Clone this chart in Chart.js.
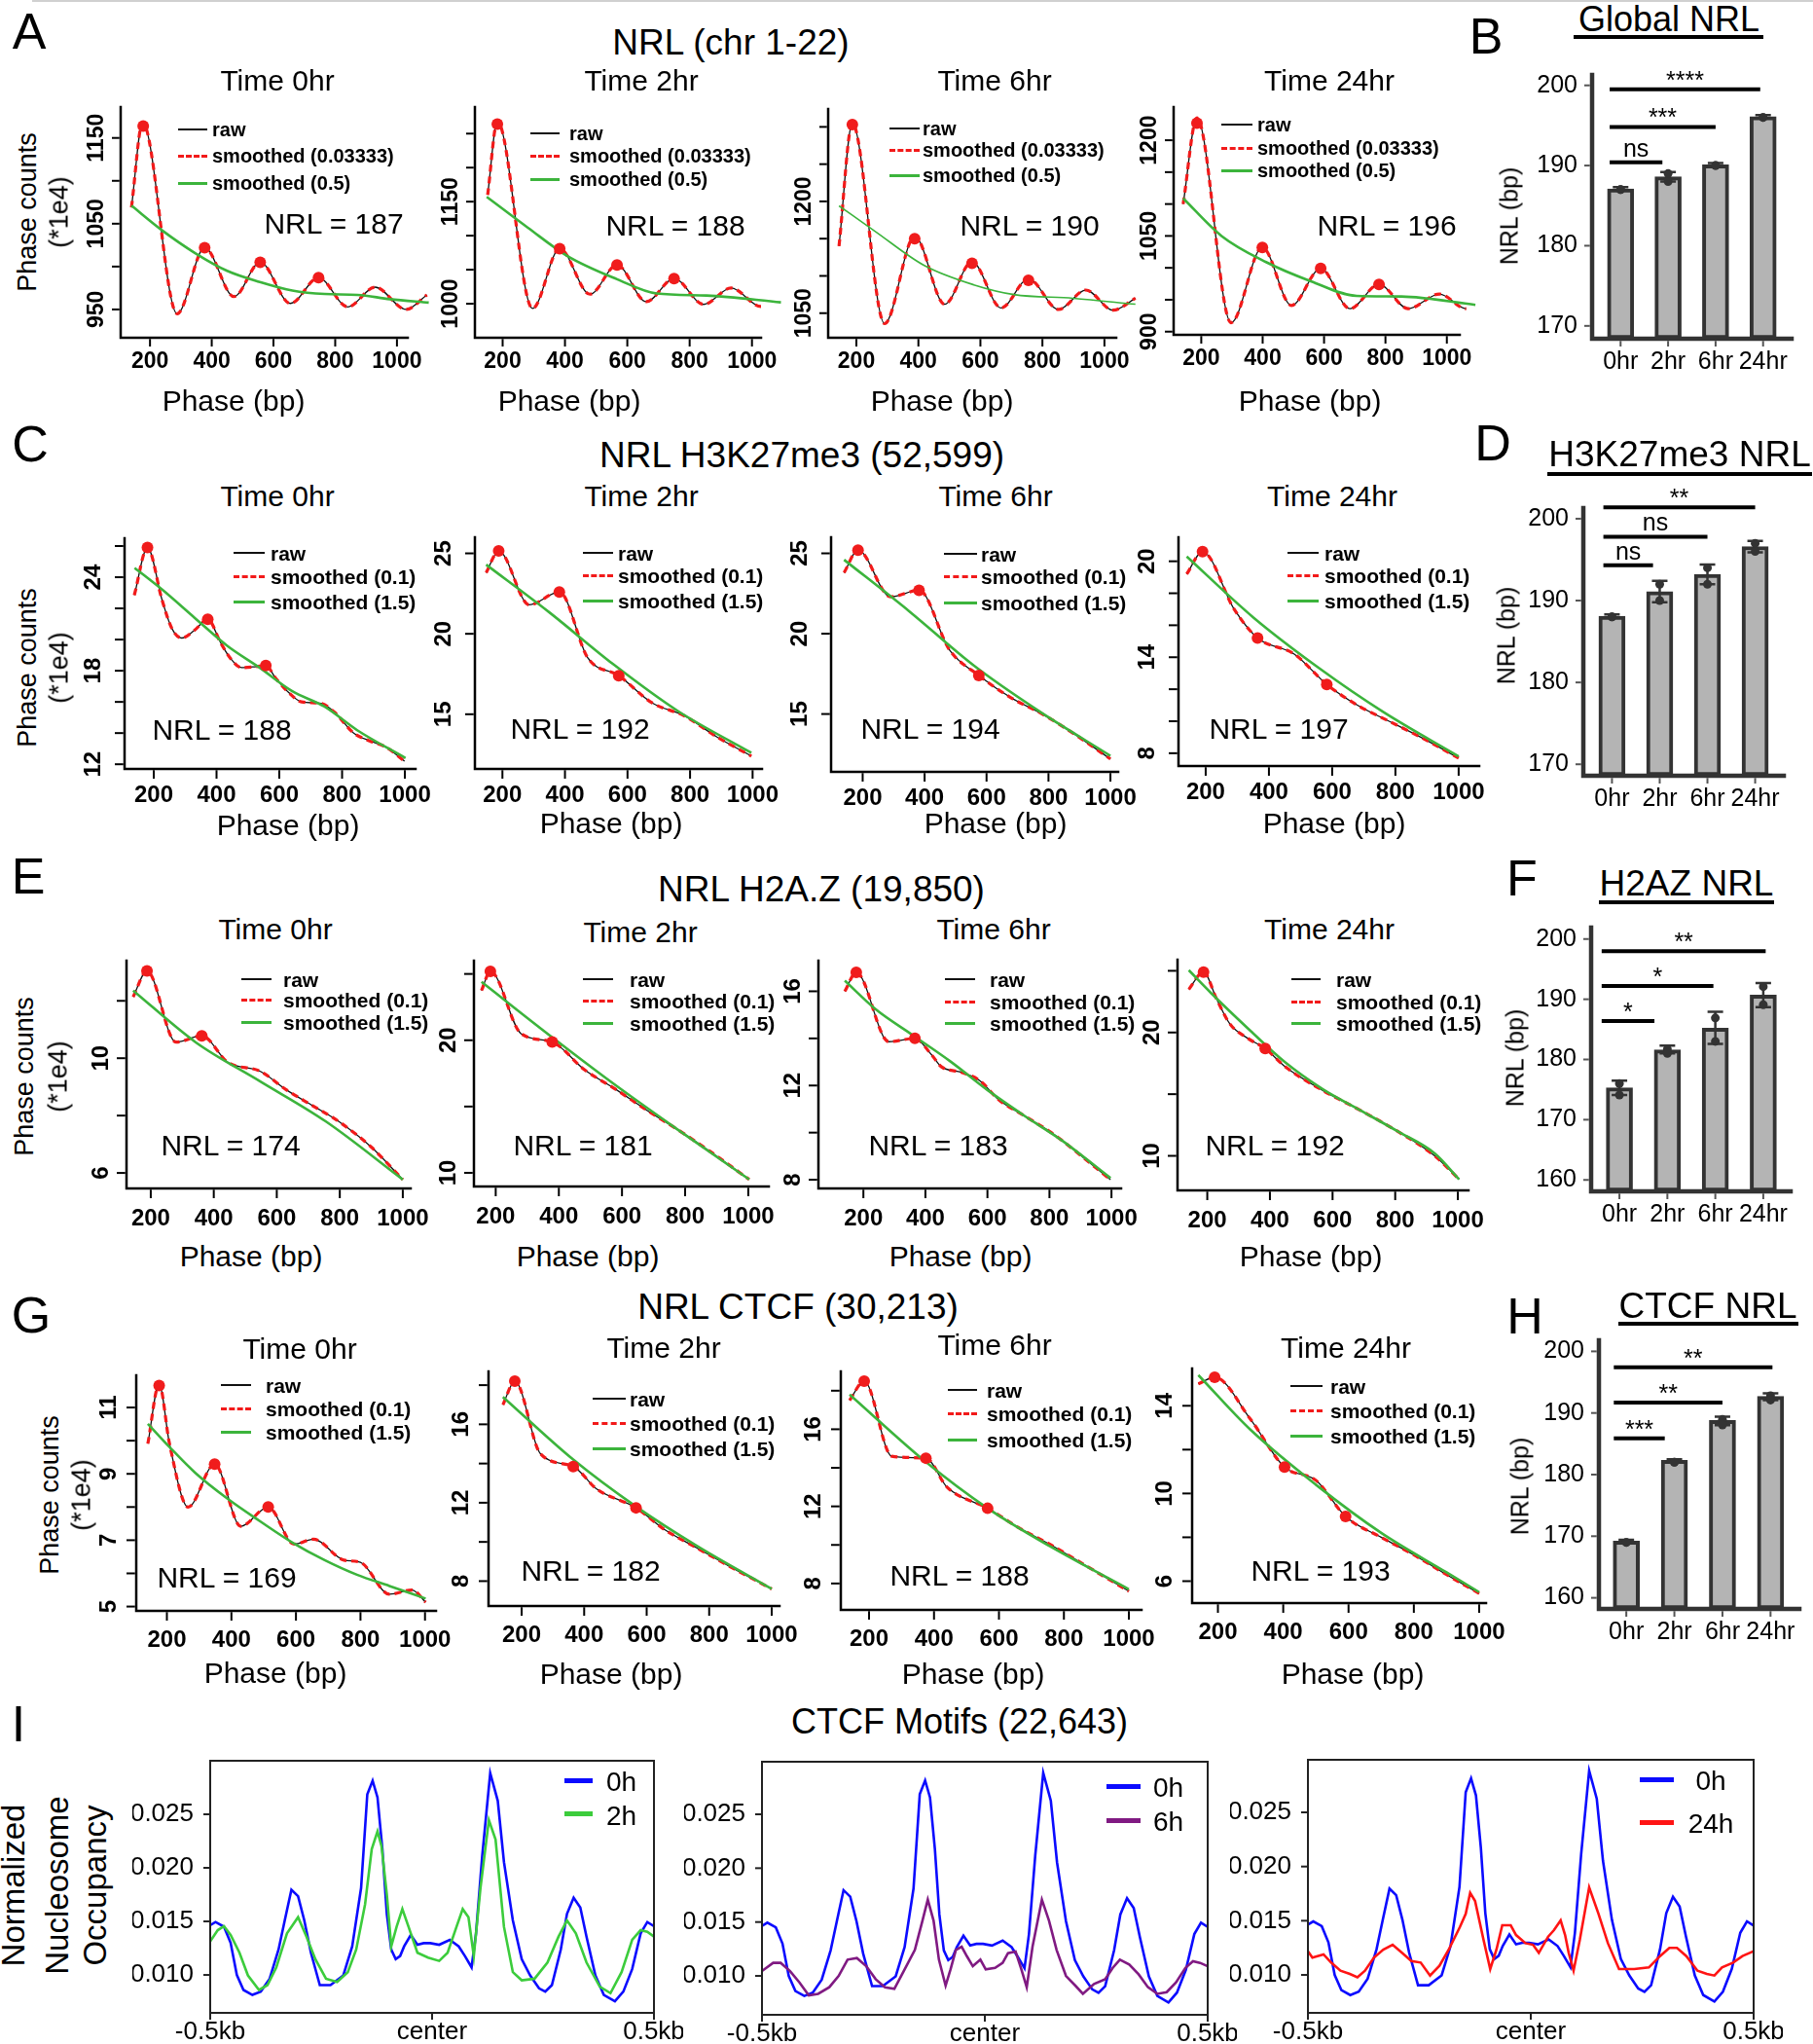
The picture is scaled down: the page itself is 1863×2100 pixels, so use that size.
<!DOCTYPE html>
<html><head><meta charset="utf-8">
<script src="https://cdn.jsdelivr.net/npm/chart.js@4.4.1/dist/chart.umd.min.js"></script>
<style>
html,body{margin:0;padding:0;background:#fff}
body{width:1863px;height:2100px;position:relative;overflow:hidden;font-family:"Liberation Sans",Arial,Helvetica,sans-serif;color:#000}
.t{position:absolute;white-space:nowrap;line-height:1;transform:translate(-50%,-50%)}
.l{position:absolute;white-space:nowrap;line-height:1;transform:translate(0,-50%)}
.hl{position:absolute}
canvas{position:absolute}
</style></head><body>
<script>
// ================= DATA =================
const PH_XT=[200,400,600,800,1000];
// --- Row A: NRL (chr 1-22) ---
const A0_x=[140,176,288,377,472,557,655,746,841,929,1030,1097];
const A0_y=[1069,1168,945,1022,965,1005,957,987,953,976,950,967];
const A0_gx=[140,240,345,450,556,661,766,872,977,1103];
const A0_gy=[1071,1042,1016,995,982,972,968,967,962,958];
const A0_dx=[178,377,557,746], A0_dy=[1164,1022,1005,987];
const A0_yt=[950,1000,1050,1100,1150], A0_yl=[950,1050,1150];

const A1_x=[152,183,296,383,480,567,661,750,845,933,1029,1092];
const A1_y=[1160,1268,993,1081,1014,1057,1003,1037,999,1023,996,1009];
const A1_gx=[149,280,408,567,694,854,1093];
const A1_gy=[1157,1112,1070,1036,1015,1012,1002];
const A1_dx=[183,383,567,750], A1_dy=[1264,1081,1057,1037];
const A1_yt=[1000,1050,1100,1150,1200,1250], A1_yl=[1000,1150];

const A2_x=[144,187,291,388,485,573,667,755,852,940,1028,1100];
const A2_y=[1140,1305,1036,1153,1062,1119,1057,1096,1055,1081,1054,1070];
const A2_gx=[144,260,419,579,708,899,1100];
const A2_gy=[1194,1160,1114,1088,1075,1070,1062];
const A2_dx=[187,388,573,755], A2_dy=[1303,1150,1117,1094];
const A2_yt=[1050,1100,1150,1200,1250,1300], A2_yl=[1050,1200];

const A3_x=[141,186,297,399,494,589,684,779,874,976,1063,1096];
const A3_y=[1100,1235,914,1032,941,999,936,974,936,959,936,941];
const A3_gx=[141,266,411,557,706,852,1093];
const A3_gy=[1109,1050,1009,979,956,955,942];
const A3_dx=[186,399,589,779], A3_dy=[1227,1032,999,974];
const A3_yt=[900,950,1000,1050,1100,1150,1200], A3_yl=[900,1050,1200];

// --- Row C: H3K27me3 ---
const C0_x=[138,180,227,258,289,330,372,413,444,480,527,557,589,630,671,733,775,837,888,940,999];
const C0_y=[22.85,25.9,22.5,20.7,20.1,20.6,21.3,19.8,18.8,18.2,18.27,18.33,17.5,16.6,16.0,15.9,15.35,14.0,13.5,13.1,12.2];
const C0_gx=[139,227,330,434,537,640,744,847,1002];
const C0_gy=[24.6,23.2,21.4,19.6,18.2,16.7,15.7,14.2,12.4];
const C0_dx=[180,372,557], C0_dy=[25.9,21.3,18.33];
const C0_yt=[12,14,16,18,20,22,24,26], C0_yl=[12,18,24];

const C1_x=[148,188,286,382,473,572,679,782,885,996];
const C1_y=[23.8,25.15,21.8,22.6,18.5,17.4,15.7,14.9,13.6,12.4];
const C1_gx=[148,349,555,761,996], C1_gy=[24.3,21.35,18.1,15.2,12.6];
const C1_dx=[188,382,572], C1_dy=[25.15,22.6,17.4];
const C1_yt=[15,20,25], C1_yl=[15,20,25];

const C2_x=[140,185,290,382,480,575,680,780,880,1000];
const C2_y=[23.8,25.2,22.3,22.7,19.0,17.4,16.0,15.0,13.8,12.2];
const C2_gx=[140,350,560,760,1000], C2_gy=[24.6,21.4,18.0,15.3,12.4];
const C2_dx=[185,382,575], C2_dy=[25.2,22.7,17.4];
const C2_yt=[15,20,25], C2_yl=[15,20,25];

const C3_x=[140,190,290,364,480,583,680,780,880,1000];
const C3_y=[19.2,20.6,17.0,15.2,14.2,12.3,11.0,10.0,9.0,7.7];
const C3_gx=[140,350,560,760,1000], C3_gy=[20.3,16.5,13.3,10.6,7.8];
const C3_dx=[190,364,583], C3_dy=[20.6,15.2,12.3];
const C3_yt=[8,10,12,14,16,18,20], C3_yl=[8,14,20];

// --- Row E: H2A.Z ---
const E0_x=[144,188,280,362,444,548,630,713,796,900,1000];
const E0_y=[12.14,13.04,10.56,10.78,9.86,9.54,8.9,8.35,7.8,6.9,5.77];
const E0_gx=[144,342,549,755,1000], E0_gy=[12.36,10.56,9.18,7.8,5.77];
const E0_dx=[188,362], E0_dy=[13.04,10.78];
const E0_yt=[6,8,10,12], E0_yl=[6,10];

const E1_x=[155,183,280,379,480,580,680,780,880,1003];
const E1_y=[23.75,25.2,20.5,19.87,17.8,16.3,14.7,13.2,11.6,9.5];
const E1_gx=[155,380,580,780,1003], E1_gy=[24.4,20.2,16.6,13.2,9.5];
const E1_dx=[183,379], E1_dy=[25.2,19.87];
const E1_yt=[10,15,20,25], E1_yl=[10,20];

const E2_x=[140,177,282,366,420,451,517,576,636,721,817,913,997];
const E2_y=[16.0,16.8,13.86,14.0,13.3,12.8,12.56,12.2,11.4,10.7,9.9,8.9,8.0];
const E2_gx=[140,240,360,480,601,721,841,997], E2_gy=[16.45,15.23,14.13,13.03,11.8,10.7,9.66,8.07];
const E2_dx=[177,366], E2_dy=[16.8,14.0];
const E2_yt=[8,10,12,14,16], E2_yl=[8,12,16];

const E3_x=[141,188,230,272,331,385,450,569,688,807,926,1004];
const E3_y=[23.5,24.9,22.7,20.7,19.5,18.7,17.2,15.3,13.7,12.0,10.0,8.1];
const E3_gx=[141,212,331,450,569,688,807,926,1004], E3_gy=[25.05,23.2,20.3,17.55,15.4,13.7,12.0,10.2,8.1];
const E3_dx=[188,385], E3_dy=[24.9,18.7];
const E3_yt=[10,15,20,25], E3_yl=[10,20];

// --- Row G: CTCF ---
const G0_x=[141,176,208,266,348,429,514,594,654,749,800,890,960,1002];
const G0_y=[9.91,11.71,9.91,8.0,9.29,7.42,8.0,6.88,7.03,6.4,6.33,5.37,5.5,5.13];
const G0_gx=[141,208,288,388,489,589,689,789,890,1002], G0_gy=[10.51,9.81,9.03,8.25,7.57,6.93,6.40,5.96,5.62,5.24];
const G0_dx=[176,348,514], G0_dy=[11.66,9.29,8.0];
const G0_yt=[5,6,7,8,9,10,11], G0_yl=[5,7,9,11];

const G1_x=[140,178,260,365,440,566,660,760,860,1000];
const G1_y=[17.0,18.2,14.5,13.85,12.7,11.74,10.6,9.7,8.8,7.6];
const G1_gx=[140,365,566,760,1000], G1_gy=[17.4,14.2,11.8,9.8,7.6];
const G1_dx=[178,365,566], G1_dy=[18.2,13.85,11.74];
const G1_yt=[8,10,12,14,16,18], G1_yl=[8,12,16];

const G2_x=[140,185,270,375,440,565,660,760,860,1000];
const G2_y=[17.5,18.5,14.6,14.5,13.0,11.9,10.9,10.0,9.0,7.6];
const G2_gx=[140,375,565,760,1000], G2_gy=[17.8,14.3,11.9,9.9,7.7];
const G2_dx=[185,375,565], G2_dy=[18.5,14.5,11.9];
const G2_yt=[8,10,12,14,16,18], G2_yl=[8,12,16];

const G3_x=[140,190,299,404,500,591,700,800,900,1000];
const G3_y=[15.0,15.3,13.4,11.2,10.6,8.95,8.0,7.2,6.3,5.44];
const G3_gx=[140,300,500,700,900,1000], G3_gy=[15.4,12.9,10.4,8.2,6.4,5.5];
const G3_dx=[190,404,591], G3_dy=[15.3,11.2,8.95];
const G3_yt=[6,8,10,12,14], G3_yl=[6,10,14];

// --- Bar charts ---
const BAR_CATS=['0hr','2hr','6hr','24hr'];
const B_mean=[187.1,188.6,190.1,196.1], B_lo=[186.9,188.0,189.9,195.9], B_hi=[187.3,189.2,190.3,196.3];
const B_rep1=[187.0,189.0,190.0,196.0], B_rep2=[187.0,188.0,190.0,196.0];
const B_sigTo=[1,2,3], B_sigY=[190.4,194.8,199.5], B_sigTxt=['ns','***','****'];
const B_yt=[170,180,190,200];

const D_mean=[188.1,191.1,193.2,196.6], D_lo=[187.9,189.8,192.0,195.9], D_hi=[188.3,192.4,194.4,197.3];
const D_rep1=[188.0,192.0,194.0,197.0], D_rep2=[188.0,190.0,192.0,196.0];
const D_sigTo=[1,2,3], D_sigY=[194.3,197.8,201.4], D_sigTxt=['ns','ns','**'];
const D_yt=[170,180,190,200];

const F_mean=[175.3,181.6,185.2,190.7], F_lo=[174.1,181.0,182.6,188.7], F_hi=[176.5,182.3,187.9,192.7];
const F_rep1=[176.0,181.7,186.9,192.1], F_rep2=[174.1,181.0,183.0,189.1];
const F_sigTo=[1,2,3], F_sigY=[186.4,192.2,198.0], F_sigTxt=['*','*','**'];
const F_yt=[160,170,180,190,200];

const H_mean=[169.2,182.3,188.8,192.7], H_lo=[169.0,182.1,188.0,192.1], H_hi=[169.4,182.5,189.4,193.2];
const H_rep1=[169.0,182.0,188.95,192.8], H_rep2=[169.0,182.0,188.05,192.1];
const H_sigTo=[1,2,3], H_sigY=[185.9,191.7,197.4], H_sigTxt=['***','**','**'];
const H_yt=[160,170,180,190,200];

// --- Row I: CTCF motif profiles (x in bp from motif centre) ---
const I_blue_x=[-500,-488,-469,-454,-440,-425,-405,-386,-366,-346,-332,-317,-302,-288,-273,-253,-229,-200,-180,-160,-146,-134,-123,-112,-102,-92,-82,-72,-63,-48,-33,-19,-4,16,40,60,74,89,99,113,131,148,162,182,202,221,241,255,270,290,304,319,334,348,368,387,412,431,451,470,485,500];
const I_blue_y=[0.01464,0.01494,0.0145,0.0130,0.0100,0.0086,0.00814,0.00845,0.00965,0.01237,0.01509,0.01796,0.01736,0.01509,0.01207,0.00905,0.00905,0.00996,0.01267,0.01811,0.02687,0.02814,0.02657,0.02174,0.0157,0.01237,0.01147,0.01177,0.01267,0.01373,0.01282,0.01297,0.01297,0.01282,0.01328,0.01267,0.01177,0.01071,0.01388,0.02113,0.02884,0.02627,0.02053,0.01509,0.01147,0.00996,0.00875,0.00844,0.00905,0.01237,0.0157,0.01721,0.0163,0.01358,0.00996,0.00814,0.00754,0.00845,0.01056,0.01388,0.01494,0.01455];
const I_2h_x=[-500,-483,-469,-454,-434,-415,-390,-371,-351,-327,-302,-283,-263,-239,-214,-190,-171,-151,-136,-123,-114,-102,-92,-80,-67,-53,-33,-9,16,35,55,69,82,94,109,128,143,162,182,202,231,260,285,304,324,348,378,402,427,451,470,485,500];
const I_2h_y=[0.01313,0.01418,0.01455,0.01373,0.01207,0.00996,0.0086,0.00905,0.01071,0.01388,0.01539,0.01358,0.01147,0.00965,0.00935,0.01026,0.01237,0.0166,0.02174,0.0234,0.02204,0.01751,0.01267,0.01449,0.01615,0.01449,0.01207,0.01162,0.01131,0.01207,0.01449,0.01615,0.01539,0.01177,0.01811,0.02446,0.02265,0.01449,0.01026,0.0095,0.00965,0.01116,0.01358,0.01509,0.01388,0.01116,0.0089,0.0083,0.01026,0.01328,0.01418,0.01403,0.01358];
const I_6h_x=[-500,-475,-458,-437,-416,-395,-374,-349,-328,-308,-287,-266,-245,-224,-203,-182,-157,-140,-128,-115,-103,-88,-77,-65,-52,-40,-27,-10,2,23,40,52,69,82,94,107,128,144,161,182,203,220,245,270,287,303,324,345,366,387,408,429,450,467,483,500];
const I_6h_y=[0.01045,0.01121,0.01121,0.01045,0.0094,0.00819,0.00834,0.00895,0.01,0.01151,0.01166,0.0109,0.0097,0.00895,0.0088,0.01045,0.01241,0.01512,0.01708,0.01512,0.01151,0.0091,0.0106,0.01241,0.01271,0.01181,0.0109,0.01151,0.0106,0.01075,0.01121,0.01211,0.01226,0.0106,0.00895,0.01271,0.01708,0.01512,0.01241,0.01,0.0091,0.00834,0.00925,0.0097,0.01075,0.01151,0.01106,0.01015,0.00895,0.00834,0.00849,0.0094,0.01075,0.01136,0.01121,0.0109];
const I_24h_x=[-500,-490,-465,-448,-427,-406,-389,-372,-352,-331,-310,-289,-268,-247,-226,-205,-184,-159,-146,-136,-125,-106,-91,-77,-64,-45,-33,-12,5,18,39,52,67,77,85,96,110,131,152,173,198,232,265,290,311,328,349,374,395,412,429,454,475,500];
const I_24h_y=[0.01219,0.01159,0.01189,0.01114,0.01039,0.01009,0.00979,0.01039,0.01159,0.01234,0.01278,0.01204,0.01129,0.01114,0.00994,0.01084,0.01234,0.01443,0.01563,0.01757,0.01683,0.01324,0.01054,0.01234,0.01458,0.01458,0.01368,0.01293,0.01278,0.01204,0.01353,0.01413,0.01503,0.01368,0.01204,0.01039,0.01323,0.01808,0.01563,0.01293,0.01054,0.01054,0.01069,0.01174,0.01249,0.01249,0.01174,0.01039,0.01009,0.00994,0.01069,0.01114,0.01174,0.01219];
const I_yt=[0.010,0.015,0.020,0.025];
const I_xt=[-500,0,500], I_xl=['-0.5kb','center','0.5kb'];

// ================= HELPERS =================
const FF='"Liberation Sans", Arial, Helvetica, sans-serif';
function pts(xs,ys){return xs.map((x,i)=>({x:x,y:ys[i]}));}
function T(txt,x,y,size,o){o=o||{};const d=document.createElement('div');d.className='t';d.textContent=txt;
  d.style.left=x+'px';d.style.top=y+'px';d.style.fontSize=size+'px';
  if(o.bold)d.style.fontWeight='bold';if(o.rot)d.style.transform='translate(-50%,-50%) rotate(-90deg)';
  document.body.appendChild(d);}
function TL(txt,x,y,size,bold){const d=document.createElement('div');d.className='l';d.textContent=txt;
  d.style.left=x+'px';d.style.top=y+'px';d.style.fontSize=size+'px';if(bold)d.style.fontWeight='bold';document.body.appendChild(d);}
function HL(x0,x1,y,th,style){const d=document.createElement('div');d.className='hl';
  d.style.left=x0+'px';d.style.top=(y-th/2)+'px';d.style.width=(x1-x0)+'px';d.style.height='0';d.style.borderTop=th+'px '+style;document.body.appendChild(d);}
function mkCanvas(box,pad){const c=document.createElement('canvas');
  const w=box[2]-box[0]+pad[0]+pad[2],h=box[3]-box[1]+pad[1]+pad[3];
  c.width=w;c.height=h;c.style.left=(box[0]-pad[0])+'px';c.style.top=(box[1]-pad[1])+'px';c.style.width=w+'px';c.style.height=h+'px';
  document.body.appendChild(c);return c;}
function baseOpts(pad,xr,yr,ax,extra){return {responsive:false,animation:false,devicePixelRatio:1,
  layout:{padding:{left:pad[0],top:pad[1],right:pad[2],bottom:pad[3]}},
  plugins:{legend:{display:false},tooltip:{enabled:false},ax:ax,bx:extra||{}},
  scales:{x:{type:'linear',offset:false,grace:0,min:xr[0],max:xr[1],display:false},y:{type:'linear',grace:0,min:yr[0],max:yr[1],display:false}}};}

// axis plugin
Chart.register({id:'ax',afterDraw(ch,a,o){
  if(!o||!o.kind)return;const c=ch.ctx,A=ch.chartArea,X=ch.scales.x,Y=ch.scales.y;
  c.save();c.strokeStyle=o.col;c.fillStyle='#000';c.lineWidth=o.lw;c.lineCap='square';
  c.beginPath();
  if(o.kind==='box'){c.rect(A.left,A.top,A.right-A.left,A.bottom-A.top);}
  else{c.moveTo(A.left,A.top);c.lineTo(A.left,A.bottom);c.lineTo(A.right,A.bottom);}
  c.stroke();c.lineCap='butt';c.lineWidth=o.tlw;c.strokeStyle=o.tcol||o.col;
  o.yt.forEach(v=>{const y=Y.getPixelForValue(v);c.beginPath();c.moveTo(A.left-o.lw/2,y);c.lineTo(A.left-o.tl,y);c.stroke();});
  o.xt.forEach(v=>{const x=X.getPixelForValue(v);c.beginPath();c.moveTo(x,A.bottom+o.lw/2);c.lineTo(x,A.bottom+o.tl);c.stroke();});
  c.font=o.font;c.textBaseline='middle';c.textAlign='center';
  o.xl.forEach((t,i)=>c.fillText(t,X.getPixelForValue(o.xlAt[i]),A.bottom+o.xOff));
  o.yl.forEach(v=>{const y=Y.getPixelForValue(v);const s=o.yFmt?o.yFmt(v):String(v);
    if(o.yRot){c.save();c.translate(A.left-o.yOff,y);c.rotate(-Math.PI/2);c.textAlign='center';c.fillText(s,0,0);c.restore();}
    else{c.textAlign='right';c.fillText(s,A.left-o.yOff,y);}});
  c.restore();}});
// bar extras plugin: error bars, replicate dots, significance brackets
Chart.register({id:'bx',afterDatasetsDraw(ch,a,o){
  if(!o||!o.lo)return;const c=ch.ctx,X=ch.scales.x,Y=ch.scales.y;c.save();
  c.strokeStyle='#333';c.fillStyle='#333';c.lineWidth=2.5;
  o.lo.forEach((lo,i)=>{const x=X.getPixelForValue(i),y0=Y.getPixelForValue(lo),y1=Y.getPixelForValue(o.hi[i]);
    c.beginPath();c.moveTo(x,y0);c.lineTo(x,y1);c.moveTo(x-8,y0);c.lineTo(x+8,y0);c.moveTo(x-8,y1);c.lineTo(x+8,y1);c.stroke();
    [o.r1[i],o.r2[i]].forEach(v=>{c.beginPath();c.arc(x,Y.getPixelForValue(v),4.5,0,Math.PI*2);c.fill();});});
  c.strokeStyle='#000';c.fillStyle='#000';c.lineWidth=4;c.font='25px '+FF;c.textAlign='center';c.textBaseline='middle';
  o.sigY.forEach((v,i)=>{const to=o.sigTo[i];const x0=X.getPixelForValue(o.s0),x1=X.getPixelForValue(to+o.s1[i]),y=Y.getPixelForValue(v);
    c.beginPath();c.moveTo(x0,y);c.lineTo(x1,y);c.stroke();
    const t=o.sigTxt[i];c.fillText(t,(x0+x1)/2,y-(t==='ns'?13:8));});
  c.restore();}});

function phaso(box,xr,yr,x,y,gx,gy,dx,dy,yt,yl,st,gw){
  const pad=[70,12,50,50];const cv=mkCanvas(box,pad);
  const ax={kind:'L',col:'#000',lw:2.5,tlw:2,tl:st.tl,yt:yt,xt:PH_XT,xl:PH_XT.map(String),xlAt:PH_XT,yl:yl,yRot:true,
    font:'bold '+st.fs+'px '+FF,xOff:st.xOff,yOff:st.yOff};
  new Chart(cv,{type:'line',data:{datasets:[
    {data:pts(dx,dy),showLine:false,pointRadius:6,pointHoverRadius:6,pointBackgroundColor:'#f01c1c',pointBorderWidth:0,clip:false},
    {data:pts(gx,gy),borderColor:'#3cb43c',borderWidth:gw||2.6,pointRadius:0,cubicInterpolationMode:'monotone',clip:false,fill:false},
    {data:pts(x,y),borderColor:'#f21a1a',borderWidth:3.2,borderDash:[7,5],pointRadius:0,cubicInterpolationMode:'monotone',clip:false,fill:false},
    {data:pts(x,y),borderColor:'#111',borderWidth:1.3,pointRadius:0,cubicInterpolationMode:'monotone',clip:false,fill:false}
  ]},options:baseOpts(pad,xr,yr,ax)});}

function bars(box,xr,yr,mean,lo,hi,r1,r2,sigTo,sigY,sigTxt,yt,s0,s1){
  const pad=[70,20,20,45];const cv=mkCanvas(box,pad);
  const ax={kind:'L',col:'#333',tcol:'#555',lw:4.5,tlw:2,tl:8,yt:yt,xt:[0,1,2,3],xl:BAR_CATS,xlAt:[0,1,2,3],yl:yt,yRot:false,
    font:'25px '+FF,xOff:24,yOff:15};
  new Chart(cv,{type:'bar',data:{datasets:[{data:pts([0,1,2,3],mean),backgroundColor:'#b4b4b4',borderColor:'#333',borderWidth:4,
    barThickness:27,base:yr[0],borderSkipped:false}]},
    options:baseOpts(pad,xr,yr,ax,{lo:lo,hi:hi,r1:r1,r2:r2,sigTo:sigTo,sigY:sigY,sigTxt:sigTxt,s0:s0,s1:s1})});}

function profile(box,yr,other,ox,oy,col){
  const pad=[80,10,30,40];const cv=mkCanvas(box,pad);
  const ax={kind:'box',col:'#222',lw:2,tlw:2,tl:7,yt:I_yt,xt:I_xt,xl:I_xl,xlAt:I_xt,yl:I_yt,yRot:false,
    yFmt:v=>v.toFixed(3),font:'26px '+FF,xOff:20,yOff:17};
  new Chart(cv,{type:'line',data:{datasets:[
    {data:pts(ox,oy),borderColor:col,borderWidth:2.6,pointRadius:0,tension:0,fill:false},
    {data:pts(I_blue_x,I_blue_y),borderColor:'#0b0bff',borderWidth:2.6,pointRadius:0,tension:0,fill:false}
  ]},options:baseOpts(pad,[-500,500],yr,ax)});}

function phLegend(x0,x1,tx,ys,labs,fs){
  HL(x0,x1,ys[0],2,'solid #111');HL(x0,x1,ys[1],3,'dashed #f21a1a');HL(x0,x1,ys[2],3,'solid #3cb43c');
  labs.forEach((t,i)=>TL(t,tx,ys[i],fs,true));}

// ================= LAYOUT =================
const SA={fs:23,xOff:25,yOff:24,tl:9}, SC={fs:24,xOff:27,yOff:32,tl:10}, SE={fs:24,xOff:31,yOff:26,tl:10}, SG={fs:24,xOff:30,yOff:28,tl:10};
const LA=['raw','smoothed (0.03333)','smoothed (0.5)'], LB=['raw','smoothed (0.1)','smoothed (1.5)'];

HL(33,1863,1,2,'solid #d0d0d0');

// Row A
phaso([124,110,419,347],[105,1035],[917,1186],A0_x,A0_y,A0_gx,A0_gy,A0_dx,A0_dy,A0_yt,A0_yl,SA);
phaso([488,110,782,347],[111,1029],[950,1289],A1_x,A1_y,A1_gx,A1_gy,A1_dx,A1_dy,A1_yt,A1_yl,SA);
phaso([851,112,1147,347],[109,1038],[1017,1324],A2_x,A2_y,A2_gx,A2_gy,A2_dx,A2_dy,A2_yt,A2_yl,SA,1.6);
phaso([1206,110,1500,344],[110,1042],[895,1252],A3_x,A3_y,A3_gx,A3_gy,A3_dx,A3_dy,A3_yt,A3_yl,SA);
T('A',30,32,52);T('NRL (chr 1-22)',751,43,37);
[['Time 0hr',285],['Time 2hr',659],['Time 6hr',1022],['Time 24hr',1366]].forEach(p=>T(p[0],p[1],83,30));
T('Phase counts',28,218,27,{rot:1});T('(*1e4)',61,218,27,{rot:1});
[240,585,968,1346].forEach(x=>T('Phase (bp)',x,412,30));
T('NRL = 187',343,230,30);T('NRL = 188',694,232,30);T('NRL = 190',1058,232,30);T('NRL = 196',1425,232,30);
phLegend(183,213,218,[133,160,188],LA,20);phLegend(545,575,585,[137,160,184],LA,20);
phLegend(914,945,948,[132,154,180],LA,20);phLegend(1255,1287,1292,[128,152,175],LA,20);

// B
bars([1636,77,1841,348],[-0.6,3.6],[168.4,201.3],B_mean,B_lo,B_hi,B_rep1,B_rep2,B_sigTo,B_sigY,B_sigTxt,B_yt,-0.23,[-0.12,0,-0.06]);
T('B',1527,37,52);T('Global NRL',1715,20,36);HL(1617,1812,38,4,'solid #000');T('NRL (bp)',1551,222,25,{rot:1});

// Row C
phaso([128,553,427,790],[107,1034],[11.7,26.5],C0_x,C0_y,C0_gx,C0_gy,C0_dx,C0_dy,C0_yt,C0_yl,SC);
phaso([488,552,783,790],[112,1030],[11.6,26.0],C1_x,C1_y,C1_gx,C1_gy,C1_dx,C1_dy,C1_yt,C1_yl,SC);
phaso([854,552,1149,793],[98,1025],[11.4,26.0],C2_x,C2_y,C2_gx,C2_gy,C2_dx,C2_dy,C2_yt,C2_yl,SC);
phaso([1211,552,1520,787],[114,1065],[7.2,21.5],C3_x,C3_y,C3_gx,C3_gy,C3_dx,C3_dy,C3_yt,C3_yl,SC);
T('C',31,456,52);T('NRL H3K27me3 (52,599)',824,467,37);
[['Time 0hr',285],['Time 2hr',659],['Time 6hr',1023],['Time 24hr',1369]].forEach(p=>T(p[0],p[1],510,30));
T('Phase counts',28,686,27,{rot:1});T('(*1e4)',61,686,27,{rot:1});
[[296,848],[628,846],[1023,846],[1371,846]].forEach(p=>T('Phase (bp)',p[0],p[1],30));
T('NRL = 188',228,750,30);T('NRL = 192',596,749,30);T('NRL = 194',956,749,30);T('NRL = 197',1314,749,30);
phLegend(240,272,278,[568,592,618],LB,21);phLegend(599,630,635,[568,591,617],LB,21);
phLegend(970,1004,1008,[569,592,619],LB,21);phLegend(1323,1355,1361,[568,591,617],LB,21);

// D
bars([1627,522,1833,797],[-0.6,3.6],[168.6,201.3],D_mean,D_lo,D_hi,D_rep1,D_rep2,D_sigTo,D_sigY,D_sigTxt,D_yt,-0.18,[-0.14,0,0]);
T('D',1534,455,52);T('H3K27me3 NRL',1726,466,37);HL(1590,1862,487,4,'solid #000');T('NRL (bp)',1548,653,25,{rot:1});

// Row E
phaso([130,987,422,1221],[123,1025],[5.46,13.4],E0_x,E0_y,E0_gx,E0_gy,E0_dx,E0_dy,E0_yt,E0_yl,SE);
phaso([487,987,790,1219],[131,1065],[8.97,26.0],E1_x,E1_y,E1_gx,E1_gy,E1_dx,E1_dy,E1_yt,E1_yl,SE);
phaso([841,987,1152,1221],[55,1031],[7.63,17.3],E2_x,E2_y,E2_gx,E2_gy,E2_dx,E2_dy,E2_yt,E2_yl,SE);
phaso([1210,986,1509,1223],[105,1034],[7.2,25.9],E3_x,E3_y,E3_gx,E3_gy,E3_dx,E3_dy,E3_yt,E3_yl,SE);
T('E',29,900,52);T('NRL H2A.Z (19,850)',844,913,37);
[['Time 0hr',283,955],['Time 2hr',658,958],['Time 6hr',1021,955],['Time 24hr',1366,955]].forEach(p=>T(p[0],p[1],p[2],30));
T('Phase counts',25,1106,27,{rot:1});T('(*1e4)',60,1106,27,{rot:1});
[258,604,987,1347].forEach(x=>T('Phase (bp)',x,1291,30));
T('NRL = 174',237,1177,30);T('NRL = 181',599,1177,30);T('NRL = 183',964,1177,30);T('NRL = 192',1310,1177,30);
phLegend(248,279,291,[1006,1027,1050],LB,21);phLegend(599,630,647,[1006,1028,1051],LB,21);
phLegend(971,1002,1017,[1006,1029,1051],LB,21);phLegend(1327,1357,1373,[1006,1029,1051],LB,21);

// F
bars([1635,953,1840,1224],[-0.59,3.57],[158.1,201.9],F_mean,F_lo,F_hi,F_rep1,F_rep2,F_sigTo,F_sigY,F_sigTxt,F_yt,-0.37,[-0.27,-0.04,0.05]);
T('F',1564,902,52);T('H2AZ NRL',1733,907,37);HL(1643,1823,927,4,'solid #000');T('NRL (bp)',1557,1087,25,{rot:1});

// Row G
phaso([140,1413,448,1655],[105,1034],[4.87,11.97],G0_x,G0_y,G0_gx,G0_gy,G0_dx,G0_dy,G0_yt,G0_yl,SG);
phaso([502,1409,801,1650],[94,1025],[6.73,18.7],G1_x,G1_y,G1_gx,G1_gy,G1_dx,G1_dy,G1_yt,G1_yl,SG);
phaso([864,1409,1173,1654],[113,1039],[6.63,19.0],G2_x,G2_y,G2_gx,G2_gy,G2_dx,G2_dy,G2_yt,G2_yl,SG);
phaso([1225,1406,1527,1647],[121,1021],[5.0,15.7],G3_x,G3_y,G3_gx,G3_gy,G3_dx,G3_dy,G3_yt,G3_yl,SG);
T('G',32,1351,52);T('NRL CTCF (30,213)',820,1342,37);
[['Time 0hr',308,1386],['Time 2hr',682,1385],['Time 6hr',1022,1382],['Time 24hr',1383,1385]].forEach(p=>T(p[0],p[1],p[2],30));
T('Phase counts',51,1536,27,{rot:1});T('(*1e4)',84,1536,27,{rot:1});
[[283,1719],[628,1720],[1000,1720],[1390,1720]].forEach(p=>T('Phase (bp)',p[0],p[1],30));
T('NRL = 169',233,1621,30);T('NRL = 182',607,1614,30);T('NRL = 188',986,1619,30);T('NRL = 193',1357,1614,30);
phLegend(227,258,273,[1423,1447,1471],LB,21);phLegend(609,643,647,[1437,1462,1488],LB,21);
phLegend(974,1004,1014,[1428,1452,1479],LB,21);phLegend(1326,1359,1367,[1424,1449,1475],LB,21);

// H
bars([1643,1377,1849,1653],[-0.57,3.6],[158.2,201.8],H_mean,H_lo,H_hi,H_rep1,H_rep2,H_sigTo,H_sigY,H_sigTxt,H_yt,-0.26,[-0.2,0,0.04]);
T('H',1567,1352,52);T('CTCF NRL',1755,1341,37);HL(1663,1848,1360,4,'solid #000');T('NRL (bp)',1562,1527,25,{rot:1});

// Row I
profile([216,1809,672,2068],[0.00646,0.0300],'2h',I_2h_x,I_2h_y,'#3ccc3c');
profile([783,1810,1241,2070],[0.00639,0.02988],'6h',I_6h_x,I_6h_y,'#801a82');
profile([1344,1808,1802,2068],[0.0065,0.02985],'24h',I_24h_x,I_24h_y,'#ff1414');
T('I',19,1771,52);T('CTCF Motifs (22,643)',986,1769,36);
T('Normalized',13,1937,33,{rot:1});T('Nucleosome',58,1937,33,{rot:1});T('Occupancy',97,1937,33,{rot:1});
HL(580,609,1829,5,'solid #0b0bff');HL(580,609,1863,5,'solid #3ccc3c');TL('0h',623,1831,28);TL('2h',623,1866,28);
HL(1137,1172,1835,5,'solid #0b0bff');HL(1137,1172,1870,5,'solid #801a82');TL('0h',1185,1837,28);TL('6h',1185,1872,28);
HL(1685,1720,1828,5,'solid #0b0bff');HL(1685,1720,1872,5,'solid #ff1414');T('0h',1758,1830,28);T('24h',1758,1874,28);
</script>
</body></html>
